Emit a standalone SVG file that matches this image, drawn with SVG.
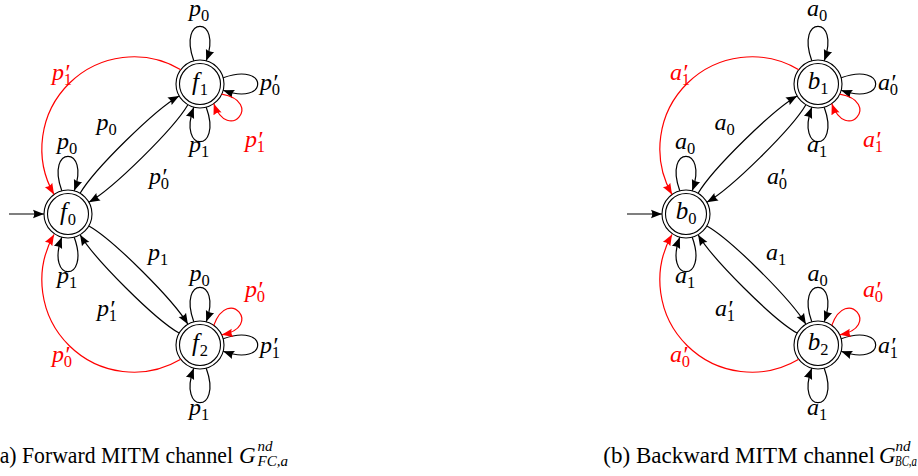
<svg xmlns="http://www.w3.org/2000/svg" xmlns:xlink="http://www.w3.org/1999/xlink" width="918" height="476" viewBox="0 0 918 476">
<style>
.n circle{fill:none;stroke:#000;stroke-width:1.1}
.e{fill:none;stroke:#000;stroke-width:1.2}
.r{fill:none;stroke:#f00;stroke-width:1.2}
.m{font-family:"Liberation Serif","Times New Roman",serif;font-style:italic;font-size:24px;fill:#000}
.nl{font-size:25px}
.s{font-style:normal;font-size:16.5px}
.red{fill:#f00}
.cap{font-family:"Liberation Serif","Times New Roman",serif;font-size:23px;fill:#000}
.ci{font-family:"Liberation Serif","Times New Roman",serif;font-style:italic;font-size:15px;fill:#000}
</style>
<defs>
<marker id="ak" viewBox="0 0 11 10" refX="11" refY="5" markerWidth="11" markerHeight="10" markerUnits="userSpaceOnUse" orient="auto"><path d="M0,0.7 L11,5 L0,9.3 Q2.5,5 0,0.7z" fill="#000"/></marker>
<marker id="ar" viewBox="0 0 11 10" refX="11" refY="5" markerWidth="11" markerHeight="10" markerUnits="userSpaceOnUse" orient="auto"><path d="M0,0.7 L11,5 L0,9.3 Q2.5,5 0,0.7z" fill="#f00"/></marker>
<path id="lk" d="M-6.21,-23.18 C-23,-69.2 23,-69.2 6.21,-23.18" fill="none" stroke="#000" stroke-width="1.2" marker-end="url(#ak)"/>
<path id="lr" d="M-6.21,-23.18 C-27.7,-60.4 27.7,-60.4 6.21,-23.18" fill="none" stroke="#f00" stroke-width="1.2" marker-end="url(#ar)"/>
</defs>

<!-- nodes: forward channel -->
<g id="f0" class="n"><circle cx="68" cy="214" r="24"/><circle cx="68" cy="214" r="20.5"/><text class="m nl" x="68" y="219.5" text-anchor="middle">f<tspan class="s" dx="1" dy="5">0</tspan></text></g>
<g id="f1" class="n"><circle cx="200" cy="84" r="24"/><circle cx="200" cy="84" r="20.5"/><text class="m nl" x="200" y="89.5" text-anchor="middle">f<tspan class="s" dx="1" dy="5">1</tspan></text></g>
<g id="f2" class="n"><circle cx="200" cy="345" r="24"/><circle cx="200" cy="345" r="20.5"/><text class="m nl" x="200" y="350.5" text-anchor="middle">f<tspan class="s" dx="1" dy="5">2</tspan></text></g>

<!-- nodes: backward channel -->
<g id="b0" class="n"><circle cx="686" cy="214" r="24"/><circle cx="686" cy="214" r="20.5"/><text class="m nl" x="686" y="219" text-anchor="middle">b<tspan class="s" dy="5">0</tspan></text></g>
<g id="b1" class="n"><circle cx="818" cy="84" r="24"/><circle cx="818" cy="84" r="20.5"/><text class="m nl" x="818" y="89" text-anchor="middle">b<tspan class="s" dy="5">1</tspan></text></g>
<g id="b2" class="n"><circle cx="818" cy="345" r="24"/><circle cx="818" cy="345" r="20.5"/><text class="m nl" x="818" y="350" text-anchor="middle">b<tspan class="s" dy="5">2</tspan></text></g>

<!-- connectors: forward -->
<g id="connectors-forward">
<path class="e" marker-end="url(#ak)" d="M9,214 L44,214"/>
<path class="e" marker-end="url(#ak)" d="M80.1,193.3 C94.3,169.2 154.7,109.7 179.1,95.9"/>
<path class="e" marker-end="url(#ak)" d="M187.9,104.7 C173.7,128.8 113.3,188.4 88.9,202.2"/>
<path class="e" marker-end="url(#ak)" d="M88.9,225.9 C113.3,239.7 173.7,300.2 187.9,324.3"/>
<path class="e" marker-end="url(#ak)" d="M179.1,333.1 C154.7,319.3 94.3,258.8 80.1,234.7"/>
<path class="r" marker-end="url(#ar)" d="M180.8,69.7 A92,92 0 0 0 54,194.5"/>
<path class="r" marker-end="url(#ar)" d="M180.8,359.3 A92,92 0 0 1 54,234.5"/>
<use xlink:href="#lk" transform="translate(68,214)"/>
<use xlink:href="#lk" transform="translate(68,214) rotate(180)"/>
<use xlink:href="#lk" transform="translate(200,84)"/>
<use xlink:href="#lk" transform="translate(200,84) rotate(90)"/>
<use xlink:href="#lk" transform="translate(200,84) rotate(180)"/>
<use xlink:href="#lr" transform="translate(200,84) rotate(130)"/>
<use xlink:href="#lk" transform="translate(200,345)"/>
<use xlink:href="#lk" transform="translate(200,345) rotate(90)"/>
<use xlink:href="#lk" transform="translate(200,345) rotate(180)"/>
<use xlink:href="#lr" transform="translate(200,345) rotate(50)"/>
</g>

<!-- connectors: backward -->
<g id="connectors-backward" transform="translate(618,0)">
<path class="e" marker-end="url(#ak)" d="M9,214 L44,214"/>
<path class="e" marker-end="url(#ak)" d="M80.1,193.3 C94.3,169.2 154.7,109.7 179.1,95.9"/>
<path class="e" marker-end="url(#ak)" d="M187.9,104.7 C173.7,128.8 113.3,188.4 88.9,202.2"/>
<path class="e" marker-end="url(#ak)" d="M88.9,225.9 C113.3,239.7 173.7,300.2 187.9,324.3"/>
<path class="e" marker-end="url(#ak)" d="M179.1,333.1 C154.7,319.3 94.3,258.8 80.1,234.7"/>
<path class="r" marker-end="url(#ar)" d="M180.8,69.7 A92,92 0 0 0 54,194.5"/>
<path class="r" marker-end="url(#ar)" d="M180.8,359.3 A92,92 0 0 1 54,234.5"/>
<use xlink:href="#lk" transform="translate(68,214)"/>
<use xlink:href="#lk" transform="translate(68,214) rotate(180)"/>
<use xlink:href="#lk" transform="translate(200,84)"/>
<use xlink:href="#lk" transform="translate(200,84) rotate(90)"/>
<use xlink:href="#lk" transform="translate(200,84) rotate(180)"/>
<use xlink:href="#lr" transform="translate(200,84) rotate(130)"/>
<use xlink:href="#lk" transform="translate(200,345)"/>
<use xlink:href="#lk" transform="translate(200,345) rotate(90)"/>
<use xlink:href="#lk" transform="translate(200,345) rotate(180)"/>
<use xlink:href="#lr" transform="translate(200,345) rotate(50)"/>
</g>

<!-- labels: forward -->
<g id="labels-forward" class="m">
<text x="189" y="16">p<tspan class="s" dy="5">0</tspan></text>
<text x="260" y="90">p′<tspan class="s" dx="-5.5" dy="5">0</tspan></text>
<text x="189" y="151.5">p<tspan class="s" dy="5">1</tspan></text>
<text class="red" x="245" y="147">p′<tspan class="s" dx="-5.5" dy="5">1</tspan></text>
<text x="57" y="148.5">p<tspan class="s" dy="5">0</tspan></text>
<text x="57" y="283">p<tspan class="s" dy="5">1</tspan></text>
<text x="96.5" y="130">p<tspan class="s" dy="5">0</tspan></text>
<text x="149" y="184">p′<tspan class="s" dx="-5.5" dy="5">0</tspan></text>
<text x="148" y="260">p<tspan class="s" dy="5">1</tspan></text>
<text x="97" y="315.5">p′<tspan class="s" dx="-5.5" dy="5">1</tspan></text>
<text class="red" x="52" y="80">p′<tspan class="s" dx="-5.5" dy="5">1</tspan></text>
<text class="red" x="52" y="361.5">p′<tspan class="s" dx="-5.5" dy="5">0</tspan></text>
<text x="189.5" y="281">p<tspan class="s" dy="5">0</tspan></text>
<text class="red" x="245" y="296.5">p′<tspan class="s" dx="-5.5" dy="5">0</tspan></text>
<text x="260" y="353">p′<tspan class="s" dx="-5.5" dy="5">1</tspan></text>
<text x="189" y="415">p<tspan class="s" dy="5">1</tspan></text>
</g>

<!-- labels: backward -->
<g id="labels-backward" class="m" transform="translate(618,0)">
<text x="189" y="16">a<tspan class="s" dy="5">0</tspan></text>
<text x="260" y="90">a′<tspan class="s" dx="-5.5" dy="5">0</tspan></text>
<text x="189" y="151.5">a<tspan class="s" dy="5">1</tspan></text>
<text class="red" x="245" y="147">a′<tspan class="s" dx="-5.5" dy="5">1</tspan></text>
<text x="57" y="148.5">a<tspan class="s" dy="5">0</tspan></text>
<text x="57" y="283">a<tspan class="s" dy="5">1</tspan></text>
<text x="96.5" y="130">a<tspan class="s" dy="5">0</tspan></text>
<text x="149" y="184">a′<tspan class="s" dx="-5.5" dy="5">0</tspan></text>
<text x="148" y="260">a<tspan class="s" dy="5">1</tspan></text>
<text x="97" y="315.5">a′<tspan class="s" dx="-5.5" dy="5">1</tspan></text>
<text class="red" x="52" y="80">a′<tspan class="s" dx="-5.5" dy="5">1</tspan></text>
<text class="red" x="52" y="361.5">a′<tspan class="s" dx="-5.5" dy="5">0</tspan></text>
<text x="189.5" y="281">a<tspan class="s" dy="5">0</tspan></text>
<text class="red" x="245" y="296.5">a′<tspan class="s" dx="-5.5" dy="5">0</tspan></text>
<text x="260" y="353">a′<tspan class="s" dx="-5.5" dy="5">1</tspan></text>
<text x="189" y="415">a<tspan class="s" dy="5">1</tspan></text>
</g>

<!-- captions -->
<g id="captions">
<text class="cap" x="-7.5" y="463" textLength="240.5" lengthAdjust="spacingAndGlyphs">(a) Forward MITM channel</text>
<text class="cap" x="239" y="463" font-style="italic">G</text>
<text class="ci" x="257.5" y="450.7">nd</text>
<text class="ci" x="257.5" y="466">FC,a</text>
<text class="cap" x="603.3" y="463" textLength="271.7" lengthAdjust="spacingAndGlyphs">(b) Backward MITM channel</text>
<text class="cap" x="879" y="463" font-style="italic">G</text>
<text class="ci" x="895.5" y="450.7">nd</text>
<text class="ci" x="895" y="466" textLength="22" lengthAdjust="spacingAndGlyphs">BC,a</text>
</g>
</svg>
